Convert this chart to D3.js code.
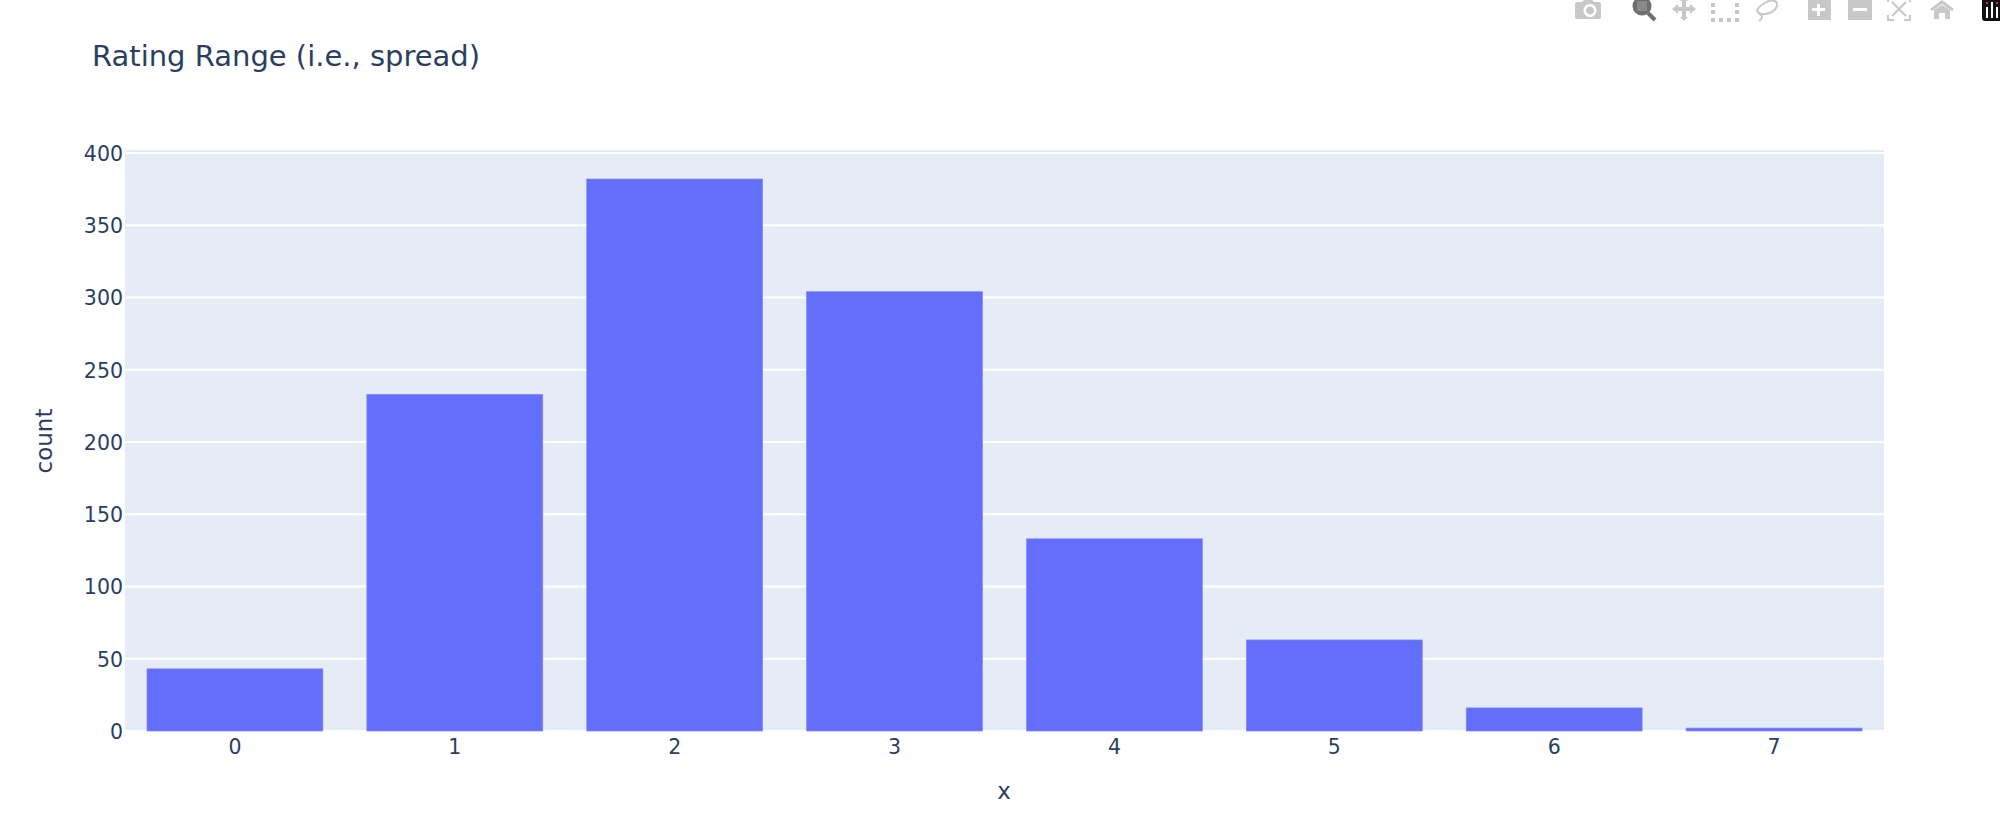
<!DOCTYPE html>
<html>
<head>
<meta charset="utf-8">
<script src="https://cdn.jsdelivr.net/npm/d3@7"></script>
<style>
    html, body { margin: 0; padding: 0; background: #fff; }
    svg { display: block; }
    text { font-family: "DejaVu Sans", Verdana, sans-serif; fill: #2a3f5f; }
    .axis path, .axis line { display: none; }
    .grid line { stroke: #fff; stroke-width: 2; }
</style>
</head>
<body>
<svg id="svg" width="2000" height="821"></svg>
<script>
const categories = ['0', '1', '2', '3', '4', '5', '6', '7'];
const counts = [43, 233, 382, 304, 133, 63, 16, 2];
const yTicks = [0, 50, 100, 150, 200, 250, 300, 350, 400];

const svg = d3.select('#svg');
const plot = {left: 125, right: 1884, top: 150, bottom: 730};

const xScale = d3.scaleBand()
                .domain(categories)
                .range([plot.left, plot.right])
                .paddingInner(.2)
                .paddingOuter(.1);
const yScale = d3.scaleLinear()
                .domain([0, 400])
                .range([731, 153]);

svg.append('rect')
    .attr('x', plot.left)
    .attr('y', plot.top)
    .attr('width', plot.right - plot.left)
    .attr('height', plot.bottom - plot.top)
    .attr('fill', '#e5ecf6');

// gridlines
svg.append('g')
    .classed('grid', true)
    .selectAll('line').data(yTicks.slice(1))
    .enter()
    .append('line')
    .attr('x1', plot.left)
    .attr('x2', plot.right)
    .attr('y1', d => yScale(d))
    .attr('y2', d => yScale(d));

// bars
svg.append('g')
    .selectAll('rect').data(counts)
    .enter()
    .append('rect')
    .attr('x', (d, i) => xScale(categories[i]))
    .attr('y', d => yScale(d))
    .attr('width', xScale.bandwidth())
    .attr('height', d => yScale(0) - yScale(d))
    .attr('fill', '#636efa')
    .attr('stroke', '#7f89fb')
    .attr('stroke-width', .7);

// xAxis
const xAxis = svg.append('g')
    .classed('axis', true)
    .attr('transform', 'translate(0,' + 731 + ')')
    .call(d3.axisBottom(xScale).tickSize(0).tickPadding(5));
xAxis.selectAll('text').style('font-size', '20.5px').attr('dy', '0.9em');

// yAxis
const yAxis = svg.append('g')
    .classed('axis', true)
    .attr('transform', 'translate(' + plot.left + ',0)')
    .call(d3.axisLeft(yScale).tickValues(yTicks).tickSize(0).tickPadding(2));
yAxis.selectAll('text').style('font-size', '20.5px').attr('dy', '0.36em');

svg.append('text')
    .attr('x', 92)
    .attr('y', 66)
    .style('font-size', '29px')
    .text('Rating Range (i.e., spread)');

svg.append('text')
    .attr('x', 1004)
    .attr('y', 799)
    .attr('text-anchor', 'middle')
    .style('font-size', '23px')
    .text('x');

svg.append('text')
    .attr('transform', 'translate(52,441) rotate(-90)')
    .attr('text-anchor', 'middle')
    .style('font-size', '23px')
    .text('count');

// modebar icons, cut off by the top of the window
const bar = svg.append('g').attr('fill', '#c8c8c8');
// camera
bar.append('path').attr('d', 'M1577 2h5l2-2h8l2 2h5a2 2 0 0 1 2 2v13a2 2 0 0 1-2 2h-22a2 2 0 0 1-2-2V4a2 2 0 0 1 2-2zM1590 4a6.5 6.5 0 1 0 .01 0zM1590 6.5a4 4 0 1 1-.01 0z').attr('fill-rule', 'evenodd');
// zoom, active
bar.append('circle').attr('cx', 1642).attr('cy', 6).attr('r', 9.5).attr('fill', '#6e6e6e');
bar.append('rect').attr('x', 1637).attr('y', 1).attr('width', 10).attr('height', 10).attr('fill', '#8a8a8a');
bar.append('path').attr('d', 'M1648 13l7 7').attr('stroke', '#6f6f6f').attr('stroke-width', 4).attr('fill', 'none');
// pan
bar.append('path').attr('d', 'M1672 9l6-5v3h4V1l-2 0 4-4 4 4-2 0v6h4V4l6 5-6 5v-3h-4v6h2l-4 4-4-4h2v-6h-4v3z');
// box select
bar.append('g').selectAll('rect')
    .data([[1711, 3], [1711, 10], [1711, 18], [1719, 18], [1727, 18], [1735, 18], [1735, 10], [1735, 3]])
    .enter().append('rect')
    .attr('x', d => d[0]).attr('y', d => d[1]).attr('width', 4).attr('height', 4);
// lasso
bar.append('path').attr('d', 'M1757 11c2-6 12-12 18-10 4 2 2 8-3 11-6 3-13 3-15-1zM1757 11c1 3 5 3 5 6 0 2-2 3-3 4')
    .attr('fill', 'none').attr('stroke', '#c8c8c8').attr('stroke-width', 2);
// zoom in, zoom out
bar.append('path').attr('fill-rule', 'evenodd').attr('d', 'M1808 0h23v20h-23zM1817 4v4h-5v3h5v5h3v-5h5V8h-5V4z');
bar.append('path').attr('fill-rule', 'evenodd').attr('d', 'M1848 0h24v20h-24zM1853 8v3h14V8z');
// autoscale
bar.append('path').attr('fill', 'none').attr('stroke', '#c8c8c8').attr('stroke-width', 2)
    .attr('d', 'M1888 0v2M1910 0v2M1888 15v5h6M1910 15v5h-6M1892 2l14 14M1906 2l-14 14');
// home
bar.append('path').attr('d', 'M1930 9l12-9 12 9-2 2-10-7-10 7zM1934 10l8-5 8 5v9h-5v-6h-6v6h-5z');
// plotly logo, cut off by the top of the window
bar.append('rect').attr('x', 1982).attr('y', -6).attr('width', 30).attr('height', 27).attr('rx', 3).attr('fill', '#111');
bar.append('path').attr('d', 'M1986 7h2v11h-2zM1991 2h2v16h-2zM1996 7h2v11h-2z').attr('fill', '#fff');
bar.append('path').attr('d', 'M1986 2h2v2h-2zM1996 2h2v2h-2z').attr('fill', '#e0245e');
</script>
</body>
</html>
